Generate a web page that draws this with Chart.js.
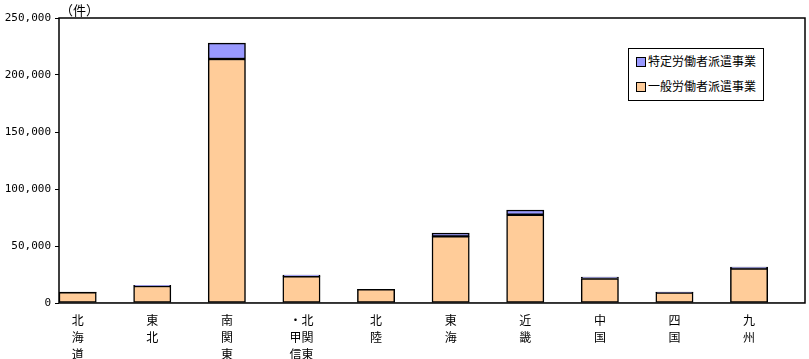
<!DOCTYPE html>
<html><head><meta charset="utf-8">
<script src="https://cdn.jsdelivr.net/npm/chart.js@4"></script>
<style>
html,body{margin:0;padding:0;background:#fff;}
#wrap{position:relative;width:809px;height:359px;}
#legend{position:absolute;left:628px;top:48px;width:134px;height:51px;border:1px solid #000;background:#fff;font-family:"Noto Sans CJK JP";font-size:12px;line-height:14px;}
#legend div{position:absolute;left:7px;white-space:nowrap;}
#legend span{display:inline-block;width:8px;height:8px;border:1px solid #000;margin-right:2px;vertical-align:-1px;}
</style></head><body>
<div id="wrap"><canvas id="c" width="809" height="359"></canvas>
<div id="legend">
<div style="top:5px"><span style="background:#9999FF"></span>特定労働者派遣事業</div>
<div style="top:30px"><span style="background:#FFCC99"></span>一般労働者派遣事業</div>
</div></div>
<script>
const categories = [["北","海","道"],["東","北"],["南","関","東"],["・北","甲関","信東"],["北","陸"],["東","海"],["近","畿"],["中","国"],["四","国"],["九","州"]];
const generalValues = [9300, 14900, 214000, 23400, 11900, 58400, 77400, 21500, 9100, 30100];
const specificValues = [200, 600, 14000, 1200, 200, 3000, 4200, 1300, 500, 1500];
const placeholder = [0,0,0,0,0,0,0,0,0,0];
const yTicks = [0, 50000, 100000, 150000, 200000, 250000];
const unitLabel = "（件）";

const frame = {
  id:'frame',
  afterDraw(chart){
    const a = chart.chartArea, ctx = chart.ctx;
    ctx.save();
    ctx.strokeStyle = '#000'; ctx.lineWidth = 1.5;
    ctx.strokeRect(a.left, a.top, a.right - a.left, a.bottom - a.top);
    ctx.fillStyle = '#000';
    ctx.font = '13px "Noto Sans CJK JP"';
    ctx.textBaseline = 'bottom';
    ctx.fillText(unitLabel, a.left + 1, a.top - 1);
    ctx.restore();
  }
};

new Chart(document.getElementById('c'), {
  type:'bar',
  data:{
    labels: categories,
    datasets:[
      {label:'一般労働者派遣事業', data:generalValues, backgroundColor:'#FFCC99', borderColor:'#000', borderWidth:1.5, borderSkipped:false, stack:'a'},
      {label:'特定労働者派遣事業', data:specificValues, backgroundColor:'#9999FF', borderColor:'#000', borderWidth:1.5, borderSkipped:false, stack:'a'},
      {label:'', data:placeholder, backgroundColor:'#000', borderWidth:0, stack:'b'}
    ]
  },
  plugins:[frame],
  options:{
    responsive:false, animation:false,
    layout:{padding:{left:0, top:18, right:4, bottom:0}},
    plugins:{legend:{display:false}, tooltip:{enabled:false}},
    datasets:{bar:{categoryPercentage:1, barPercentage:1}},
    scales:{
      x:{
        stacked:true,
        grid:{display:false},
        border:{display:false},
        afterFit(s){ s.height = 56; },
        ticks:{color:'#000', font:{family:'"Noto Sans CJK JP"', size:12, lineHeight:1.4}, maxRotation:0, autoSkip:false, padding:1, labelOffset:-18.6}
      },
      y:{
        stacked:true,
        min:0, max:250000,
        afterBuildTicks(s){ s.ticks = yTicks.map(v=>({value:v})); },
        afterFit(s){ s.width = 59; },
        grid:{drawOnChartArea:false, tickLength:4, color:'#000'},
        border:{display:false},
        ticks:{color:'#000', padding:4, font:{family:'"DejaVu Sans Mono"', size:11},
          callback:v=>v.toLocaleString('en-US')}
      }
    }
  }
});
</script></body></html>
